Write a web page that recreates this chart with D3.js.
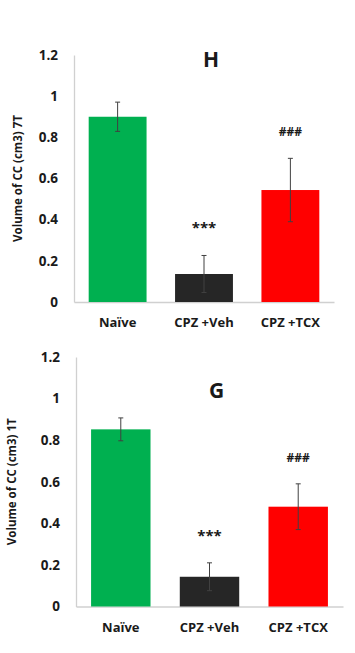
<!DOCTYPE html>
<html><head><meta charset="utf-8">
<script src="https://cdn.jsdelivr.net/npm/d3@7"></script>
<style>body{margin:0;background:#fff}svg{display:block}text{font-family:"Open Sans",sans-serif;font-weight:bold;fill:#1a1a1a}</style>
</head><body>
<script>
const categories = ["Naïve", "CPZ +Veh", "CPZ +TCX"];
const valuesH = [0.90, 0.136, 0.544];
const errorsH = [0.071, 0.09, 0.154];
const valuesG = [0.852, 0.143, 0.48];
const errorsG = [0.055, 0.067, 0.11];
const annotations = ["", "***", "###"];
const tickValues = [0, 0.2, 0.4, 0.6, 0.8, 1, 1.2];
const tickLabels = ["0", "0.2", "0.4", "0.6", "0.8", "1", "1.2"];
const colors = ["#00b050", "#262626", "#ff0000"];

const svg = d3.select("body").append("svg").attr("width", 355).attr("height", 653);

const panels = [
  {letter: "H", title: "Volume of CC (cm3) 7T", values: valuesH, errors: errorsH,
   x0: 74, x1: 334, y0: 302, y1: 55, titleX: 19, letterY: 61},
  {letter: "G", title: "Volume of CC (cm3) 1T", values: valuesG, errors: errorsG,
   x0: 76, x1: 343, y0: 606.5, y1: 357, titleX: 13, letterY: 392}
];

panels.forEach(p => {
  const g = svg.append("g");
  const x = d3.scaleBand().domain(categories).range([p.x0, p.x1]).paddingInner(0.33).paddingOuter(0.17);
  const y = d3.scaleLinear().domain([0, 1.2]).range([p.y0, p.y1]);

  // y axis
  const ya = d3.axisLeft(y).tickValues(tickValues).tickFormat((d, i) => tickLabels[i]).tickSize(0).tickPadding(16);
  const yg = g.append("g").attr("transform", `translate(${p.x0},0)`).call(ya);
  yg.select(".domain").attr("stroke", "#d0d0d0").attr("stroke-width", 1.3);
  yg.selectAll("text").style("font-size", "13.5px").attr("fill", "#1a1a1a");

  // x axis
  const xa = d3.axisBottom(x).tickSize(0).tickPadding(16);
  const xg = g.append("g").attr("transform", `translate(0,${p.y0})`).call(xa);
  xg.select(".domain").attr("stroke", "#d0d0d0").attr("stroke-width", 1.3);
  xg.selectAll("text").style("font-size", "13px").attr("fill", "#1a1a1a");

  // bars
  g.selectAll("rect.bar").data(p.values).join("rect")
    .attr("x", (d, i) => x(categories[i]))
    .attr("width", x.bandwidth())
    .attr("y", d => y(d))
    .attr("height", d => y(0) - y(d))
    .attr("fill", (d, i) => colors[i]);

  // error bars
  const eb = g.selectAll("g.err").data(p.values).join("g");
  eb.append("line")
    .attr("x1", (d, i) => x(categories[i]) + x.bandwidth() / 2)
    .attr("x2", (d, i) => x(categories[i]) + x.bandwidth() / 2)
    .attr("y1", (d, i) => y(d + p.errors[i]))
    .attr("y2", (d, i) => y(d - p.errors[i]))
    .attr("stroke", "#404040").attr("stroke-width", 1);
  [1, -1].forEach(s => {
    eb.append("line")
      .attr("x1", (d, i) => x(categories[i]) + x.bandwidth() / 2 - 2.5)
      .attr("x2", (d, i) => x(categories[i]) + x.bandwidth() / 2 + 2.5)
      .attr("y1", (d, i) => y(d + s * p.errors[i]))
      .attr("y2", (d, i) => y(d + s * p.errors[i]))
      .attr("stroke", "#404040").attr("stroke-width", 1);
  });

  // annotations
  g.selectAll("text.ann").data(p.values).join("text")
    .attr("x", (d, i) => x(categories[i]) + x.bandwidth() / 2)
    .attr("y", (d, i) => y(d + p.errors[i]) - 22)
    .attr("text-anchor", "middle")
    .style("font-size", (d, i) => i === 1 ? "15px" : "12px")
    .text((d, i) => annotations[i]);

  // panel letter
  g.append("text").attr("x", x(categories[1]) + x.bandwidth() / 2 + 7).attr("y", p.letterY)
    .attr("text-anchor", "middle").attr("dominant-baseline", "middle")
    .style("font-size", "21px").attr("fill", "#000").text(p.letter);

  // y title
  g.append("text")
    .attr("transform", `translate(${p.titleX},${(p.y0 + p.y1) / 2}) rotate(-90)`)
    .attr("text-anchor", "middle").attr("dominant-baseline", "middle")
    .style("font-size", "11.5px").text(p.title);
});
</script>
</body></html>
